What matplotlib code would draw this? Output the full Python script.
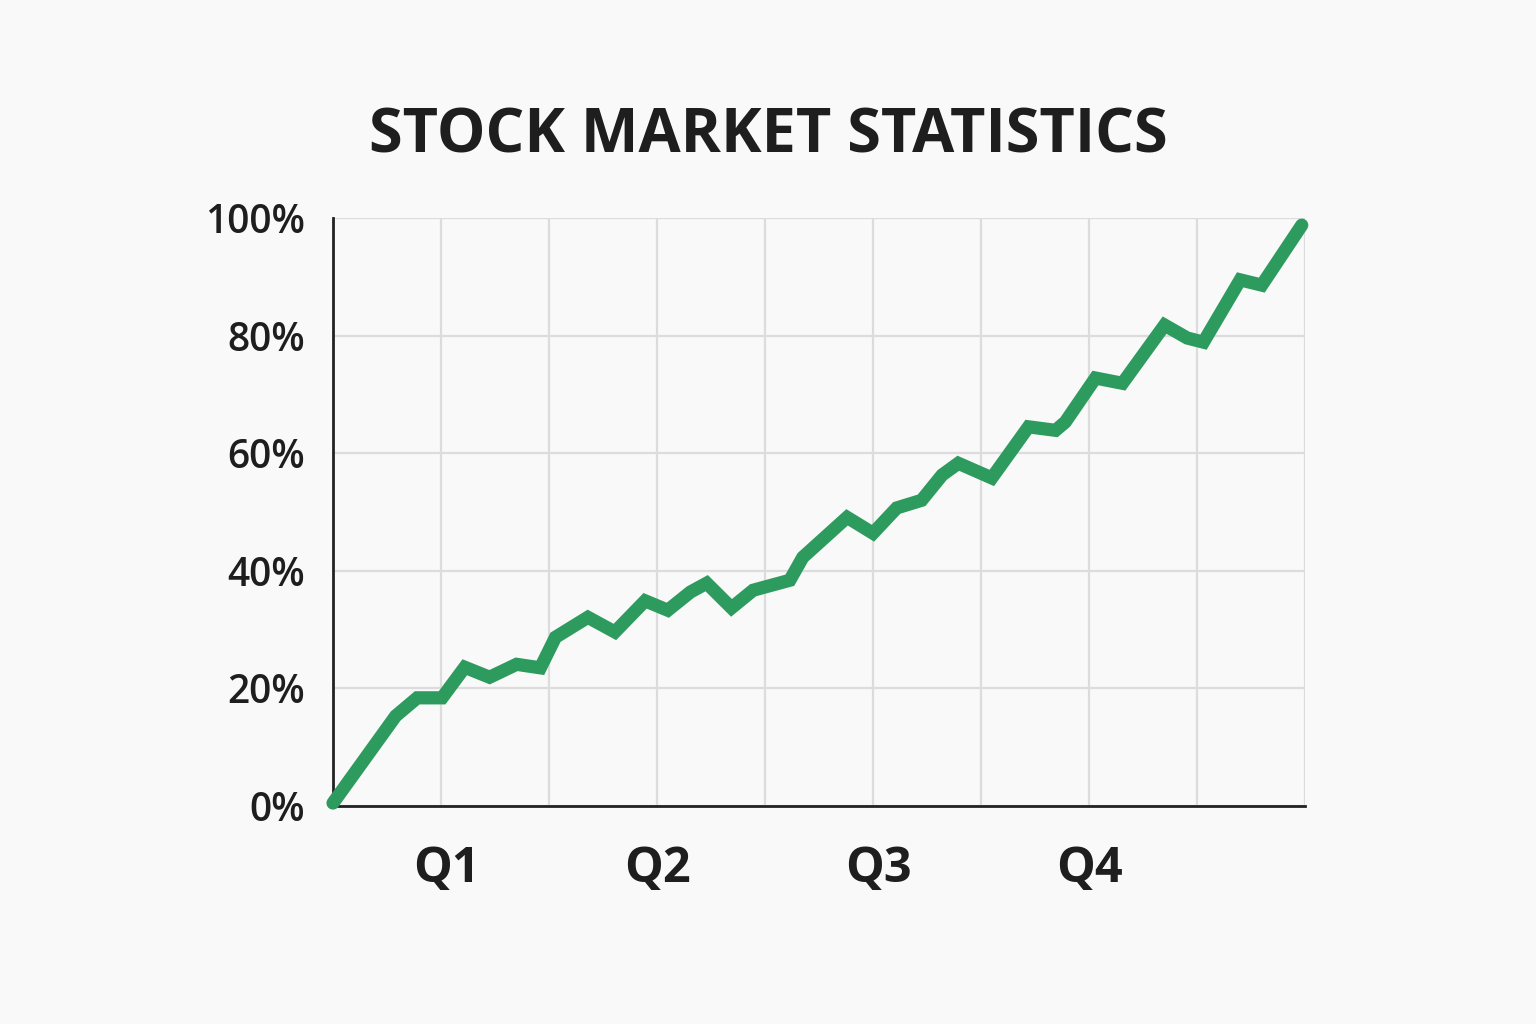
import matplotlib.pyplot as plt

# x measured in grid columns (0..9), y in percent
x_vals = [0.0, 0.58, 0.78, 1.01, 1.22, 1.45, 1.70, 1.92, 2.06, 2.36, 2.61, 2.89,
          3.10, 3.31, 3.46, 3.69, 3.89, 4.23, 4.35, 4.76, 5.00, 5.22, 5.45, 5.64,
          5.79, 6.10, 6.44, 6.69, 6.78, 7.06, 7.31, 7.70, 7.91, 8.06, 8.40, 8.60, 8.97]
y_vals = [0.5, 15.3, 18.4, 18.4, 23.6, 21.9, 24.1, 23.5, 28.7, 32.1, 29.6, 34.9,
          33.3, 36.4, 37.9, 33.7, 36.7, 38.4, 42.3, 49.1, 46.4, 50.7, 52.0, 56.3,
          58.3, 55.8, 64.5, 63.9, 65.3, 72.8, 71.9, 81.8, 79.6, 78.9, 89.5, 88.6, 98.8]

quarter_pos = [1.05, 3.0, 5.05, 7.0]
quarter_labels = ['Q1', 'Q2', 'Q3', 'Q4']
y_ticks = [0, 20, 40, 60, 80, 100]

bg = '#f9f9f9'
fig = plt.figure(figsize=(15.36, 10.24), dpi=100, facecolor=bg)
ax = fig.add_axes([0.2168, 0.2129, 0.8496 - 0.2168, 0.787 - 0.2129])
ax.set_facecolor(bg)

ax.plot(x_vals, y_vals, color='#2e9b5e', linewidth=9.5, solid_joinstyle='miter',
        solid_capstyle='round', zorder=3, clip_on=False)

ax.set_xlim(0, 9)
ax.set_ylim(0, 100)
ax.xaxis.remove_overlapping_locs = False
ax.set_xticks(range(10), minor=True)
ax.set_xticks(quarter_pos)
ax.set_xticklabels(quarter_labels, fontsize=35, fontweight='bold', family='Open Sans', color='#1e1e1e')
ax.set_yticks(y_ticks)
ax.set_yticklabels([f'{v}%' for v in y_ticks], fontsize=28, fontweight='semibold',
                   family='Open Sans', color='#1e1e1e')
ax.tick_params(axis='both', which='both', length=0)
ax.tick_params(axis='x', pad=28)
ax.tick_params(axis='y', pad=20)

ax.grid(True, which='minor', axis='x', color='#dcdcdc', linewidth=1.6)
ax.grid(True, which='major', axis='y', color='#dcdcdc', linewidth=1.6)
ax.xaxis.grid(False, which='major')
ax.set_axisbelow(True)

for s in ['top', 'right']:
    ax.spines[s].set_visible(False)
for s in ['left', 'bottom']:
    ax.spines[s].set_color('#222222')
    ax.spines[s].set_linewidth(2)

fig.text(0.5, 0.866, 'STOCK MARKET STATISTICS', ha='center', va='center',
         fontsize=44, fontweight='bold', family='Open Sans', color='#1e1e1e')

fig.savefig('out.png', dpi=100, facecolor=bg)
